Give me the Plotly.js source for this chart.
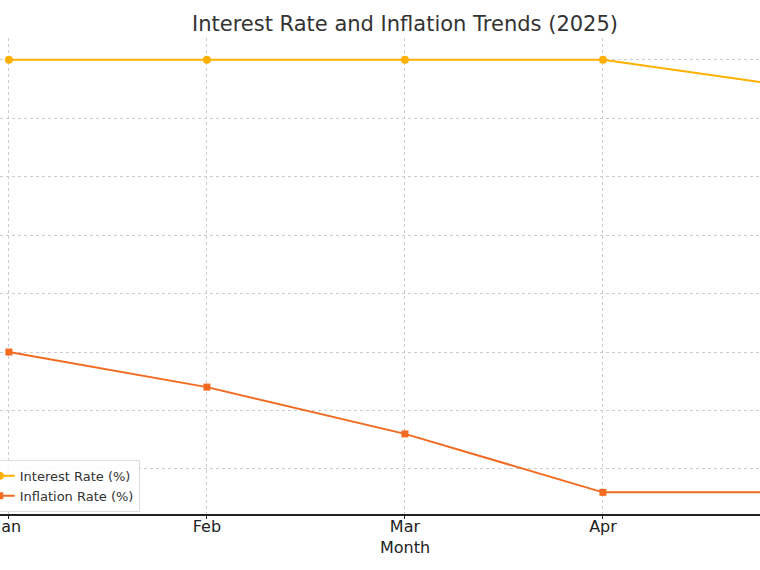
<!DOCTYPE html>
<html>
<head>
<meta charset="utf-8">
<script src="https://cdn.plot.ly/plotly-3.0.1.min.js"></script>
<style>html,body{margin:0;padding:0;background:#fff;}#chart{width:760px;height:570px;}</style>
</head>
<body>
<div id="chart"></div>
<script>
const months = ["Jan", "Feb", "Mar", "Apr", "May"];
const interestRate = [4.5, 4.5, 4.5, 4.5, 4.38];
const inflationRate = [3.25, 3.10, 2.90, 2.65, 2.65];

const traces = [
  {
    x: months, y: interestRate, name: "Interest Rate (%)",
    type: "scatter", mode: "lines+markers",
    line: {color: "#FFB000", width: 2},
    marker: {symbol: "circle", size: 8, color: "#FFB000"}
  },
  {
    x: months, y: inflationRate, name: "Inflation Rate (%)",
    type: "scatter", mode: "lines+markers",
    line: {color: "#F26B21", width: 2},
    marker: {symbol: "square", size: 7, color: "#F26B21"}
  }
];

const layout = {
  width: 760, height: 570,
  margin: {l: 0, r: 0, t: 38, b: 56, autoexpand: false},
  paper_bgcolor: "#fff", plot_bgcolor: "#fff",
  font: {family: "DejaVu Sans", color: "#333"},
  title: {text: "Interest Rate and Inflation Trends (2025)", font: {size: 21, color: "#333"}, x: 405/760, xanchor: "center", y: 0.958, yanchor: "middle"},
  xaxis: {
    type: "category", range: [-0.045, 3.793],
    tickfont: {size: 16, color: "#222"},
    showline: true, linecolor: "#222", linewidth: 1.5,
    ticks: "outside", ticklen: 3, tickcolor: "#222",
    ticklabelstandoff: -6,
    showgrid: true, gridcolor: "#ccc", griddash: "3px,3px", gridwidth: 1,
    zeroline: false
  },
  yaxis: {
    range: [2.5575, 4.5925], tick0: 2.75, dtick: 0.25,
    showticklabels: false, ticks: "",
    showgrid: true, gridcolor: "#ccc", griddash: "3px,3px", gridwidth: 1,
    showline: false, zeroline: false
  },
  annotations: [{
    text: "Month", xref: "paper", yref: "paper", x: 405/760, y: -(547-514)/476,
    xanchor: "center", yanchor: "middle", showarrow: false,
    font: {size: 16, color: "#222"}
  }],
  showlegend: true,
  legend: {
    x: -0.028, y: 0.0045, xanchor: "left", yanchor: "bottom",
    bgcolor: "rgba(255,255,255,0.85)", bordercolor: "#ddd", borderwidth: 1,
    font: {size: 13, color: "#333"}, tracegroupgap: 0
  }
};

Plotly.newPlot("chart", traces, layout, {displayModeBar: false});
</script>
</body>
</html>
